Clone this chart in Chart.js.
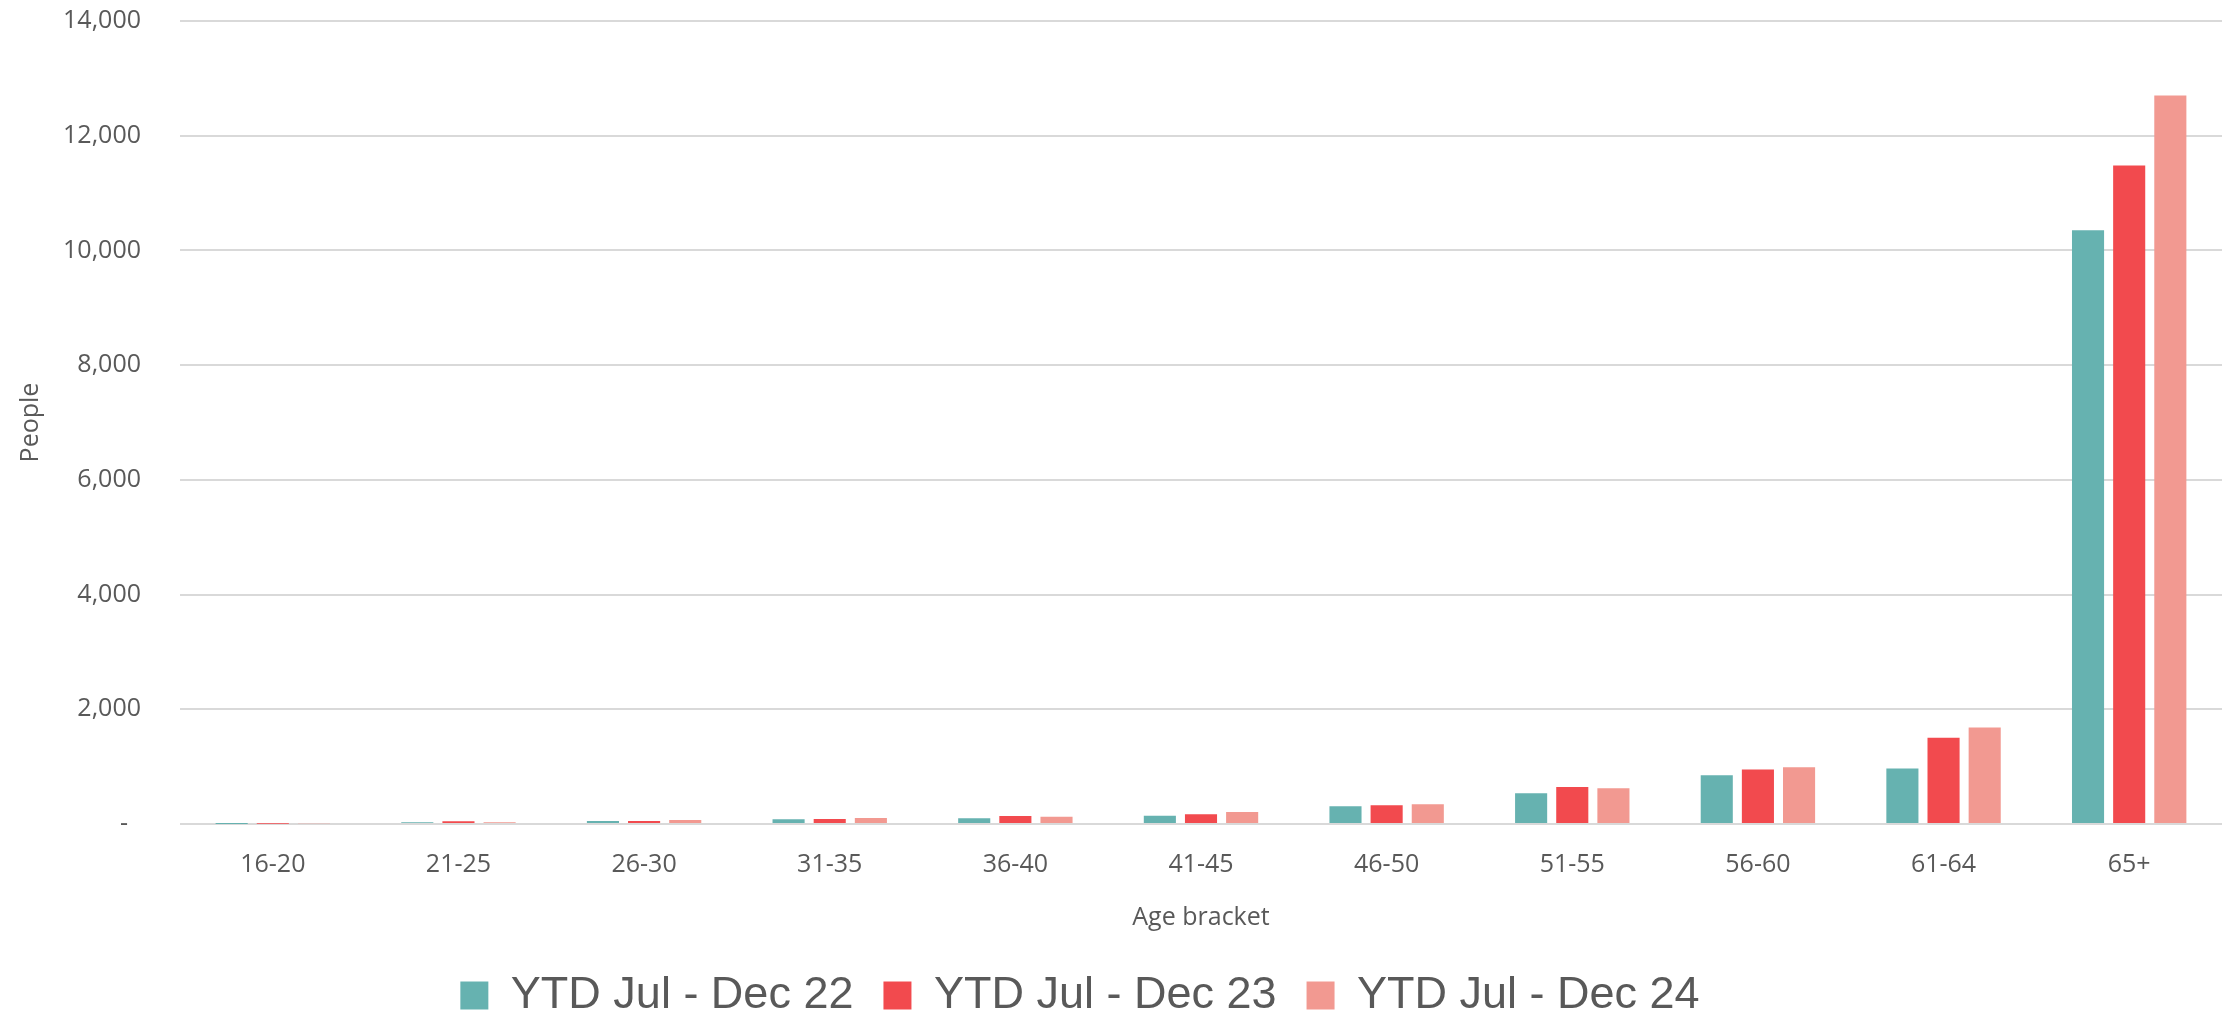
<!DOCTYPE html>
<html>
<head>
<meta charset="utf-8">
<script src="https://cdn.jsdelivr.net/npm/chart.js@4.4.1/dist/chart.umd.min.js"></script>
<style>
  html, body { margin: 0; padding: 0; background: #fff; }
  #wrap { width: 2229px; height: 1012px; }
</style>
</head>
<body>
<div id="wrap"><canvas id="ageChart"></canvas></div>
<script>
// age brackets on the x axis
const ageBrackets = ['16-20', '21-25', '26-30', '31-35', '36-40', '41-45', '46-50', '51-55', '56-60', '61-64', '65+'];

// people per bracket, one array per period
const ytd22 = [2, 29, 52, 81, 99, 146, 309, 536, 851, 969, 10350];
const ytd23 = [4, 47, 52, 87, 140, 169, 327, 647, 950, 1504, 11480];
const ytd24 = [15, 29, 70, 105, 128, 210, 344, 624, 991, 1682, 12700];

const seriesNames = ['YTD Jul - Dec 22', 'YTD Jul - Dec 23', 'YTD Jul - Dec 24'];
const yTicks = [0, 2000, 4000, 6000, 8000, 10000, 12000, 14000];

const textGrey = '#595959';
const axisFont = { family: "'Open Sans', 'DejaVu Sans', sans-serif", size: 25 };

function barSet(label, data, colour) {
  return {
    label,
    data,
    backgroundColor: colour,
    borderWidth: 0,
    categoryPercentage: 0.665,
    barPercentage: 0.78,
  };
}

// the legend in the original sits a little left of centre
const legendNudge = {
  id: 'legendNudge',
  afterLayout(chart) {
    chart.legend.left -= 31;
    chart.legend.right -= 31;
  },
};

const ctx = document.getElementById('ageChart').getContext('2d');
const ageChart = new Chart(ctx, {
  type: 'bar',
  data: {
    labels: ageBrackets,
    datasets: [
      barSet(seriesNames[0], ytd22, '#66B2B0'),
      barSet(seriesNames[1], ytd23, '#F24A4E'),
      barSet(seriesNames[2], ytd24, '#F29991'),
    ],
  },
  plugins: [legendNudge],
  options: {
    responsive: true,
    maintainAspectRatio: false,
    animation: false,
    layout: { padding: { top: 0, right: 7, bottom: -16, left: 0 } },
    plugins: {
      tooltip: { enabled: false },
      legend: {
        position: 'bottom',
        labels: {
          color: textGrey,
          font: { family: "'Liberation Sans', Arial, sans-serif", size: 45 },
          boxWidth: 28,
          boxHeight: 28,
          padding: 30,
        },
      },
    },
    scales: {
      x: {
        grid: { display: false, drawTicks: false },
        border: { display: false },
        ticks: { color: textGrey, font: axisFont, padding: 26 },
        title: {
          display: true,
          text: 'Age bracket',
          color: textGrey,
          font: axisFont,
          padding: { top: -3, bottom: 10 },
        },
      },
      y: {
        min: 0,
        max: 14000,
        afterFit: (scale) => {
          scale.width = 180;
          scale.paddingTop = 21;
        },
        afterBuildTicks: (scale) => { scale.ticks = yTicks.map((v) => ({ value: v })); },
        grid: { color: '#D9D9D9', lineWidth: 2, drawTicks: false },
        border: { display: false },
        ticks: {
          color: textGrey,
          font: axisFont,
          padding: 39,
          callback: (v) => (v === 0 ? '-  ' : v.toLocaleString('en-US')),
        },
        title: {
          display: true,
          text: 'People',
          color: textGrey,
          font: axisFont,
          padding: { top: 16, bottom: 0 },
        },
      },
    },
  },
});
</script>
</body>
</html>
